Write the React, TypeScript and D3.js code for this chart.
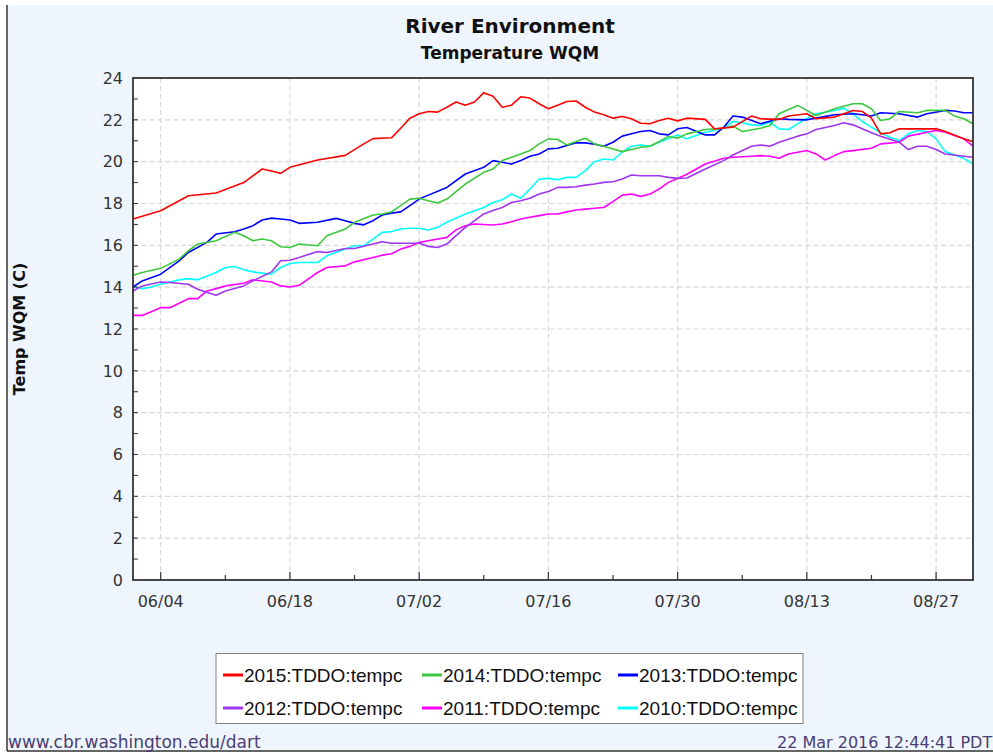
import React from 'react';
import * as d3 from 'd3';

// days are counted from June 1
const START = new Date(2015, 5, 1);
const END_DAY = 91;

const xTickLabels = ['06/04', '06/18', '07/02', '07/16', '07/30', '08/13', '08/27'];
const yTickValues = d3.range(0, 25, 2);

const seriesNames = [
  '2015:TDDO:tempc', '2014:TDDO:tempc', '2013:TDDO:tempc',
  '2012:TDDO:tempc', '2011:TDDO:tempc', '2010:TDDO:tempc',
];
const seriesColors = ['#ff0000', '#3cc83c', '#0000ff', '#a035f0', '#ff00ff', '#00ffff'];

const temp2015: [number, number][] = [
  [0, 17.26], [3, 17.65], [6, 18.37], [9, 18.5], [12, 19.0], [14, 19.65], [15, 19.55], [16, 19.44],
  [17, 19.73], [20, 20.08], [23, 20.3], [25, 20.85], [26, 21.1], [28, 21.14], [29, 21.6], [30, 22.08],
  [31, 22.29], [32, 22.4], [33, 22.37], [34, 22.6], [35, 22.85], [36, 22.7], [37, 22.85], [38, 23.3],
  [39, 23.13], [40, 22.6], [41, 22.7], [42, 23.1], [43, 23.04], [44, 22.77], [45, 22.53], [46, 22.7],
  [47, 22.88], [48, 22.9], [49, 22.6], [50, 22.37], [51, 22.24], [52, 22.08], [53, 22.16], [54, 22.05],
  [55, 21.84], [56, 21.81], [57, 21.97], [58, 22.08], [59, 21.95], [60, 22.08], [62, 22.02], [63, 21.57],
  [65, 21.65], [67, 22.18], [68, 22.05], [70, 22.02], [71, 22.18], [73, 22.29], [74, 22.05], [76, 22.13],
  [78, 22.45], [79, 22.4], [80, 22.08], [81, 21.33], [82, 21.38], [83, 21.57], [85, 21.57], [87, 21.57],
  [88, 21.44], [90, 21.09], [91, 20.96],
];
const temp2014: [number, number][] = [
  [0, 14.57], [1, 14.7], [3, 14.9], [5, 15.34], [6, 15.74], [7, 16.06], [9, 16.22], [11, 16.62],
  [12, 16.46], [13, 16.22], [14, 16.3], [15, 16.22], [16, 15.93], [17, 15.9], [18, 16.06], [20, 15.98],
  [21, 16.46], [23, 16.78], [24, 17.1], [26, 17.45], [27, 17.5], [28, 17.6], [29, 17.9], [30, 18.21],
  [31, 18.25], [32, 18.13], [33, 18.02], [34, 18.21], [36, 18.93], [38, 19.49], [39, 19.65], [40, 20.05],
  [41, 20.21], [42, 20.37], [43, 20.53], [44, 20.85], [45, 21.09], [46, 21.06], [47, 20.8], [48, 20.96],
  [49, 21.12], [50, 20.85], [51, 20.74], [52, 20.61], [53, 20.48], [54, 20.58], [55, 20.69], [56, 20.74],
  [57, 20.96], [58, 21.2], [59, 21.12], [60, 21.33], [62, 21.54], [64, 21.6], [65, 21.7], [66, 21.44],
  [68, 21.6], [69, 21.73], [70, 22.29], [72, 22.69], [73, 22.45], [74, 22.21], [76, 22.53], [78, 22.77],
  [79, 22.77], [80, 22.53], [81, 21.97], [82, 22.05], [83, 22.4], [85, 22.34], [86, 22.45], [88, 22.45],
  [89, 22.18], [90, 22.05], [91, 21.81],
];
const temp2013: [number, number][] = [
  [0, 14.01], [1, 14.3], [3, 14.62], [5, 15.26], [6, 15.66], [8, 16.14], [9, 16.54], [11, 16.65],
  [12, 16.78], [13, 16.94], [14, 17.21], [15, 17.3], [16, 17.26], [17, 17.21], [18, 17.05], [20, 17.1],
  [22, 17.29], [23, 17.18], [24, 17.05], [25, 16.98], [26, 17.18], [27, 17.45], [28, 17.54], [29, 17.6],
  [30, 17.9], [31, 18.21], [32, 18.4], [34, 18.77], [36, 19.41], [38, 19.73], [39, 20.05], [40, 19.97],
  [41, 19.89], [42, 20.05], [43, 20.26], [44, 20.37], [45, 20.61], [46, 20.64], [47, 20.77], [48, 20.9],
  [49, 20.9], [50, 20.83], [51, 20.74], [52, 20.93], [53, 21.22], [54, 21.33], [55, 21.44], [56, 21.49],
  [57, 21.33], [58, 21.28], [59, 21.57], [60, 21.63], [62, 21.28], [63, 21.28], [64, 21.65], [65, 22.18],
  [66, 22.13], [68, 21.81], [70, 22.05], [71, 22.02], [73, 22.0], [74, 22.08], [76, 22.24], [78, 22.29],
  [79, 22.24], [80, 22.18], [81, 22.34], [83, 22.29], [85, 22.13], [86, 22.29], [88, 22.45], [89, 22.42],
  [90, 22.34], [91, 22.34],
];
const temp2012: [number, number][] = [
  [0, 13.82], [1, 14.06], [3, 14.25], [4, 14.22], [6, 14.14], [7, 13.9], [9, 13.61], [10, 13.82],
  [12, 14.06], [13, 14.3], [15, 14.73], [16, 15.26], [17, 15.29], [18, 15.42], [20, 15.7], [21, 15.66],
  [23, 15.85], [24, 15.85], [26, 16.06], [27, 16.17], [28, 16.1], [30, 16.1], [31, 16.1], [32, 15.95],
  [33, 15.9], [34, 16.06], [35, 16.46], [36, 16.86], [38, 17.5], [39, 17.66], [40, 17.81], [41, 18.05],
  [42, 18.13], [43, 18.25], [44, 18.45], [45, 18.57], [46, 18.77], [47, 18.77], [48, 18.8], [49, 18.88],
  [50, 18.93], [51, 19.01], [52, 19.04], [53, 19.17], [54, 19.36], [55, 19.33], [56, 19.33], [57, 19.33],
  [58, 19.25], [59, 19.2], [60, 19.22], [62, 19.65], [64, 20.05], [65, 20.32], [67, 20.74], [68, 20.8],
  [69, 20.74], [70, 20.93], [72, 21.22], [73, 21.33], [74, 21.54], [76, 21.73], [77, 21.86], [78, 21.76],
  [79, 21.57], [80, 21.38], [81, 21.22], [83, 20.93], [84, 20.58], [85, 20.74], [86, 20.74], [87, 20.58],
  [88, 20.37], [90, 20.26], [91, 20.21],
];
const temp2011: [number, number][] = [
  [0, 12.65], [1, 12.65], [3, 13.02], [4, 13.02], [6, 13.45], [7, 13.45], [8, 13.82], [9, 13.93],
  [10, 14.06], [12, 14.19], [13, 14.35], [15, 14.25], [16, 14.06], [17, 14.01], [18, 14.09], [20, 14.7],
  [21, 14.94], [23, 15.02], [24, 15.21], [26, 15.42], [27, 15.53], [28, 15.6], [29, 15.82], [30, 15.95],
  [31, 16.14], [32, 16.22], [34, 16.38], [35, 16.74], [36, 16.94], [37, 17.02], [39, 16.97], [40, 17.02],
  [41, 17.13], [42, 17.26], [43, 17.34], [44, 17.42], [45, 17.5], [46, 17.5], [47, 17.6], [48, 17.69],
  [49, 17.73], [50, 17.77], [51, 17.81], [52, 18.09], [53, 18.4], [54, 18.45], [55, 18.34], [56, 18.45],
  [57, 18.69], [58, 19.01], [59, 19.2], [60, 19.4], [62, 19.89], [64, 20.16], [65, 20.21], [67, 20.26],
  [68, 20.29], [69, 20.26], [70, 20.16], [71, 20.37], [73, 20.53], [74, 20.37], [75, 20.08], [76, 20.29],
  [77, 20.48], [78, 20.53], [80, 20.64], [81, 20.85], [83, 20.93], [84, 21.22], [86, 21.41], [87, 21.49],
  [88, 21.41], [90, 21.09], [91, 20.74],
];
const temp2010: [number, number][] = [
  [0, 14.03], [1, 13.93], [2, 14.01], [3, 14.14], [5, 14.35], [6, 14.41], [7, 14.35], [9, 14.7],
  [10, 14.94], [11, 14.99], [12, 14.83], [13, 14.73], [14, 14.67], [15, 14.62], [16, 14.94], [17, 15.13],
  [18, 15.18], [20, 15.18], [21, 15.5], [23, 15.82], [24, 15.98], [25, 15.98], [27, 16.62], [28, 16.66],
  [29, 16.78], [30, 16.82], [31, 16.82], [32, 16.73], [33, 16.86], [34, 17.1], [36, 17.5], [38, 17.81],
  [39, 18.05], [40, 18.18], [41, 18.45], [42, 18.25], [43, 18.69], [44, 19.17], [45, 19.2], [46, 19.14],
  [47, 19.25], [48, 19.25], [49, 19.57], [50, 20.0], [51, 20.13], [52, 20.08], [53, 20.45], [54, 20.74],
  [55, 20.8], [56, 20.74], [57, 20.93], [58, 21.09], [59, 21.28], [60, 21.09], [62, 21.41], [64, 21.6],
  [65, 21.92], [66, 21.86], [67, 21.76], [68, 21.73], [69, 21.89], [70, 21.57], [71, 21.54], [72, 21.81],
  [73, 22.08], [74, 22.29], [76, 22.45], [77, 22.56], [78, 22.29], [79, 21.92], [80, 21.65], [81, 21.38],
  [82, 21.17], [83, 21.01], [84, 21.33], [85, 21.49], [86, 21.44], [87, 21.09], [88, 20.48], [90, 20.16],
  [91, 19.89],
];
const seriesData = [temp2015, temp2014, temp2013, temp2012, temp2011, temp2010];

const TICK_FONT = 'DejaVu Sans, Verdana, sans-serif';

export default function App() {
  const W = 993;
  const H = 752;
  const plot = { left: 133, right: 973, top: 78, bottom: 580 };

  const dayToDate = (d: number) => d3.timeDay.offset(START, d);
  const x = d3.scaleTime().domain([START, dayToDate(END_DAY)]).range([plot.left, plot.right]);
  const y = d3.scaleLinear().domain([0, 24]).range([plot.bottom, plot.top]);

  const parseTick = d3.timeParse('%Y/%m/%d');
  const majorDates = xTickLabels.map(l => parseTick('2015/' + l) as Date);
  const minorDates = majorDates.slice(0, -1).map(d => d3.timeDay.offset(d, 7));
  const yMinor = d3.range(1, 24);

  const line = d3.line<[number, number]>()
    .x(d => x(dayToDate(d[0])))
    .y(d => y(d[1]))
    .curve(d3.curveLinear);

  const legendCols = [223, 422, 618];
  const legendRows = [675, 708];

  // JFreeChart draws the first series last
  const drawOrder = d3.range(seriesData.length).reverse();

  return (
    <svg width={W} height={H} style={{ position: 'absolute', left: 0, top: 0 }}>
      <rect x={0} y={0} width={W} height={H} fill="#ffffff" />
      <rect x={7} y={5} width={W} height={746} fill="#eef5fd" />
      <line x1={7} y1={5} x2={7} y2={751} stroke="#333" strokeWidth={1.5} />
      <line x1={7} y1={751} x2={W} y2={751} stroke="#333" strokeWidth={1.5} />

      <text x={510} y={33} textAnchor="middle" fontFamily={TICK_FONT} fontWeight="bold" fontSize={20} fill="#111">
        River Environment
      </text>
      <text x={510} y={59} textAnchor="middle" fontFamily={TICK_FONT} fontWeight="bold" fontSize={17} fill="#111">
        Temperature WQM
      </text>

      <rect x={plot.left} y={plot.top} width={plot.right - plot.left} height={plot.bottom - plot.top} fill="#fff" />

      {/* grid */}
      {yTickValues.filter(v => v > 0 && v < 24).map(v => (
        <line key={'gy' + v} x1={plot.left} x2={plot.right} y1={y(v)} y2={y(v)}
          stroke="#d8d8d8" strokeWidth={1.2} strokeDasharray="5,3" />
      ))}
      {majorDates.map((d, i) => (
        <line key={'gx' + i} x1={x(d)} x2={x(d)} y1={plot.top} y2={plot.bottom}
          stroke="#d8d8d8" strokeWidth={1.2} strokeDasharray="5,3" />
      ))}

      {/* series */}
      {drawOrder.map(i => (
        <path key={seriesNames[i]} d={line(seriesData[i]) || ''} fill="none"
          stroke={seriesColors[i]} strokeWidth={1.6} strokeLinejoin="round" />
      ))}

      {/* ticks */}
      {yMinor.map(v => (
        <line key={'ty' + v} x1={plot.left} x2={plot.left + 5} y1={y(v)} y2={y(v)} stroke="#333" strokeWidth={1} />
      ))}
      {majorDates.map((d, i) => (
        <line key={'tx' + i} x1={x(d)} x2={x(d)} y1={plot.bottom} y2={plot.bottom - 8} stroke="#333" strokeWidth={1.2} />
      ))}
      {minorDates.map((d, i) => (
        <line key={'tm' + i} x1={x(d)} x2={x(d)} y1={plot.bottom} y2={plot.bottom - 5} stroke="#333" strokeWidth={1.2} />
      ))}

      <rect x={plot.left} y={plot.top} width={plot.right - plot.left} height={plot.bottom - plot.top}
        fill="none" stroke="#333" strokeWidth={1.8} />

      {/* tick labels */}
      {yTickValues.map(v => (
        <text key={'ly' + v} x={123} y={y(v)} dy="0.36em" textAnchor="end" fontFamily={TICK_FONT}
          fontSize={16} fill="#333">{v}</text>
      ))}
      {majorDates.map((d, i) => (
        <text key={'lx' + i} x={x(d)} y={607} textAnchor="middle" fontFamily={TICK_FONT}
          fontSize={16} fill="#333">{xTickLabels[i]}</text>
      ))}

      <text transform={`translate(25,${(plot.top + plot.bottom) / 2}) rotate(-90)`} textAnchor="middle"
        fontFamily={TICK_FONT} fontWeight="bold" fontSize={16} fill="#111">Temp WQM (C)</text>

      {/* legend */}
      <rect x={216} y={653.5} width={587} height={70} fill="#fff" stroke="#808080" strokeWidth={1} />
      {seriesNames.map((name, i) => {
        const cx = legendCols[i % 3];
        const cy = legendRows[Math.floor(i / 3)];
        return (
          <g key={'lg' + i}>
            <line x1={cx} x2={cx + 20} y1={cy} y2={cy} stroke={seriesColors[i]} strokeWidth={3} />
            <text x={cx + 21} y={cy} dy="0.36em" fontFamily="Liberation Sans, Arial, sans-serif"
              fontSize={19} fill="#111">{name}</text>
          </g>
        );
      })}

      <text x={8} y={748} fontFamily={TICK_FONT} fontSize={17} fill="#4a3d73">www.cbr.washington.edu/dart</text>
      <text x={777} y={748} fontFamily={TICK_FONT} fontSize={16} fill="#4a3d73">22 Mar 2016 12:44:41 PDT</text>
    </svg>
  );
}
